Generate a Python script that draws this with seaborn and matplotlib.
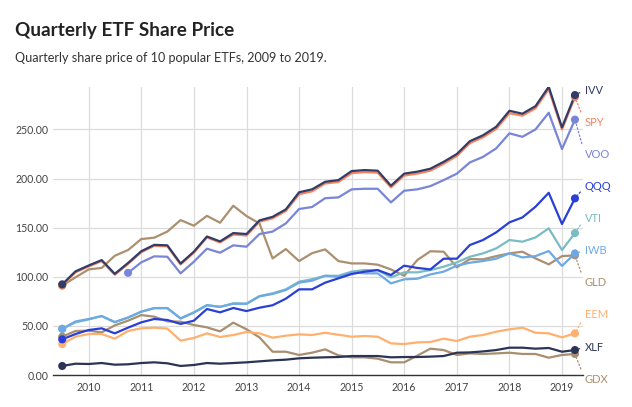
import numpy as np
import pandas as pd
import matplotlib
matplotlib.use("Agg")
import matplotlib.pyplot as plt
import matplotlib.dates as mdates
import matplotlib.transforms as mtransforms
from matplotlib.ticker import FixedLocator, FuncFormatter
import seaborn as sns

# ---------------- data ----------------
dates = pd.date_range("2009-07-01", periods=40, freq="QS")

IVV = [92.3, 105.5, 111.5, 117, 103, 114, 126, 132.5, 132, 113.5,
       125.5, 141, 136, 144.5, 143.5, 157.4, 161, 168.6, 186, 189,
       196.7, 198.4, 207.6, 208.6, 208, 192.7, 205, 207, 210, 217,
       225, 238, 244, 252.7, 269, 266, 273.7, 293.4, 252, 285]
SPY = [91.5, 104.5, 110.5, 116, 102, 113, 125, 131.5, 131, 112.5,
       124.5, 140, 135, 143, 142, 156, 159.5, 167, 184, 187,
       195, 196.5, 205.5, 206.5, 206, 191, 203, 205, 208, 215,
       223, 236, 242, 250.5, 266.5, 264, 271.5, 291, 250, 283]
VOO = [np.nan, np.nan, np.nan, np.nan, np.nan, 104, 114.7, 120.8, 120.4, 103.5,
       115.3, 128.6, 124.5, 132, 130.6, 143.5, 146, 154.3, 169, 171,
       180, 180.8, 189, 189.6, 189.6, 175.7, 187.6, 189, 192.3, 198.4,
       205, 216.4, 222, 230.7, 246, 242.5, 250, 267, 230, 260]
QQQ = [36.3, 41.7, 45.8, 47.5, 42.4, 48.2, 53.6, 57, 56, 52,
       55.3, 67.2, 63.8, 68.2, 65.1, 68.5, 71, 77.7, 87.2, 87.2,
       94, 98.4, 102.8, 105.2, 106.8, 101.8, 111.3, 109, 107.5, 118.4,
       118.4, 132.3, 137.4, 145.2, 155.4, 160.4, 171.3, 185.5, 153.7, 179.8]
VTI = [47, 53.6, 56.6, 60, 53.6, 58.4, 64.4, 68.2, 68.2, 57.7,
       63.8, 71.2, 69.2, 73, 72.6, 80.4, 83.1, 87.2, 95, 97.5,
       101, 101, 105.2, 106.8, 106.8, 99.4, 104.5, 104.5, 106.8, 110.2,
       114.7, 120.4, 123.8, 128.9, 137.4, 135.7, 140, 149.3, 127.2, 144.5]
IWB = [47, 54.5, 57, 60, 54, 58.5, 64.5, 68, 68, 57.5,
       63.5, 71, 69.5, 72.5, 72.5, 80, 82.5, 86.5, 94, 96,
       101, 100, 104.5, 103.5, 103.5, 93.3, 97.4, 98, 102.4, 105.2,
       111.3, 114.3, 116, 118.4, 123.8, 119.7, 121, 126.2, 111, 123.8]
GLD = [91, 99.4, 107.5, 109, 121.4, 127.2, 138.4, 139.8, 146, 157.7,
       152, 162, 155, 172.3, 161.8, 154.3, 118.7, 128.2, 116, 124,
       127.9, 116, 113.6, 113.6, 112.3, 107.5, 101, 117, 126, 125.5,
       109.6, 118, 117.7, 121, 123.8, 125.5, 118.7, 112.6, 121, 121.8]
EEM = [31.5, 39, 41.7, 41.7, 37, 44.8, 47.5, 48.2, 47.2, 35,
       37.7, 42.4, 38.7, 40.7, 43.8, 42.4, 38, 40, 41.4, 40.7,
       43, 41, 39, 39.7, 39, 32.2, 31.5, 33.2, 33.6, 37,
       34.6, 39, 40.7, 44.1, 46.5, 48.2, 43, 42.4, 38.3, 42.4]
XLF = [9.2, 11.5, 11.2, 12.2, 10.5, 10.9, 12.2, 12.9, 11.9, 9.2,
       10.2, 12.2, 11.5, 12.2, 12.9, 13.9, 14.9, 15.6, 17, 17.6,
       18, 18.3, 19.3, 19.3, 19.3, 18, 18.3, 18.3, 18.7, 19.3,
       22.7, 23, 24, 25.4, 27.8, 27.8, 26.8, 27.5, 23.7, 25.4]
GDX = [39, 44.8, 45.1, 43.4, 50.5, 55.3, 61, 59.4, 54.6, 54.3,
       50.9, 48.5, 44.4, 53.3, 46.5, 38.3, 23.7, 23.7, 20.4, 22.7,
       26.1, 20, 18, 18, 16.6, 12.9, 12.9, 19.7, 26.8, 25.4,
       20.4, 22, 21.4, 22, 22.7, 21.4, 21.4, 17.6, 20.4, 21.4]

series = {"IVV": IVV, "SPY": SPY, "VOO": VOO, "QQQ": QQQ, "VTI": VTI,
          "IWB": IWB, "GLD": GLD, "EEM": EEM, "XLF": XLF, "GDX": GDX}

colors = {"IVV": "#323c69", "SPY": "#f7845e", "VOO": "#7985d6",
          "QQQ": "#2a3fd6", "VTI": "#79bcc3", "IWB": "#6ea9e4",
          "GLD": "#ab9070", "EEM": "#ffb06e", "XLF": "#2b3454",
          "GDX": "#a98e6f"}

draw_order = ["GDX", "GLD", "EEM", "XLF", "VTI", "IWB", "QQQ", "VOO", "SPY", "IVV"]

df = pd.concat(
    [pd.DataFrame({"date": dates, "price": v, "etf": k}) for k, v in series.items()],
    ignore_index=True)
df = df.dropna()

# ---------------- figure ----------------
sns.set_theme(style="whitegrid")
plt.rcParams["font.family"] = ["Lato", "DejaVu Sans"]

fig = plt.figure(figsize=(6.32, 4.07), dpi=100)
ax = fig.add_axes([53.3 / 632, 32 / 407, 530 / 632, 288.3 / 407])

sns.lineplot(data=df, x="date", y="price", hue="etf", hue_order=draw_order,
             palette=colors, linewidth=1.6, legend=False, ax=ax,
             estimator=None, sort=True)

firsts = df.groupby("etf").head(1)
lasts = df.groupby("etf").tail(1)
ends = pd.concat([firsts, lasts])
ends["etf"] = pd.Categorical(ends["etf"], categories=draw_order, ordered=True)
ends = ends.sort_values("etf")
sns.scatterplot(data=ends, x="date", y="price", hue="etf", hue_order=draw_order,
                palette=colors, s=34, linewidth=0, legend=False, ax=ax, zorder=5)

# axes styling
ax.set_xlim(dates[0] - pd.Timedelta(days=62), dates[-1] + pd.Timedelta(days=58))
ax.set_ylim(0, 293.5)
ax.yaxis.set_major_locator(FixedLocator([0, 50, 100, 150, 200, 250]))
ax.yaxis.set_major_formatter(FuncFormatter(lambda v, p: f"{v:.2f}"))
ax.xaxis.set_major_locator(mdates.YearLocator())
ax.xaxis.set_major_formatter(mdates.DateFormatter("%Y"))
ax.set_xlabel("")
ax.set_ylabel("")
ax.grid(True, color="#dcdcdc", linewidth=0.9)
ax.set_facecolor("white")
for s in ["top", "right", "left"]:
    ax.spines[s].set_visible(False)
ax.spines["bottom"].set_color("#333333")
ax.spines["bottom"].set_linewidth(1.0)
ax.tick_params(axis="both", length=0, labelsize=7.6, labelcolor="#444444")
ax.tick_params(axis="y", pad=3.5)
ax.tick_params(axis="x", pad=5)

# right-hand labels with dotted leaders
blend = mtransforms.blended_transform_factory(ax.transAxes, ax.transData)
order = lasts.sort_values("price", ascending=False)
label_top, label_step = 290.0, 32.7
for i, (_, r) in enumerate(order.iterrows()):
    ax.annotate(r["etf"], xy=(r["date"], r["price"]),
                xytext=(1.003, label_top - i * label_step), textcoords=blend,
                ha="left", va="center", fontsize=8.0, color=colors[r["etf"]],
                annotation_clip=False,
                arrowprops=dict(arrowstyle="-", color=colors[r["etf"]],
                                linestyle=(0, (1.2, 1.8)), lw=0.9,
                                shrinkA=1.5, shrinkB=3, relpos=(0, 0.5)))

# titles
fig.text(15 / 632, 1 - 35.7 / 407, "Quarterly ETF Share Price",
         fontsize=13.6, fontweight="bold", color="#222222", va="baseline", ha="left")
fig.text(15 / 632, 1 - 62.5 / 407, "Quarterly share price of 10 popular ETFs, 2009 to 2019.",
         fontsize=9.1, color="#333333", va="baseline", ha="left")

fig.savefig("out.png", dpi=100)
